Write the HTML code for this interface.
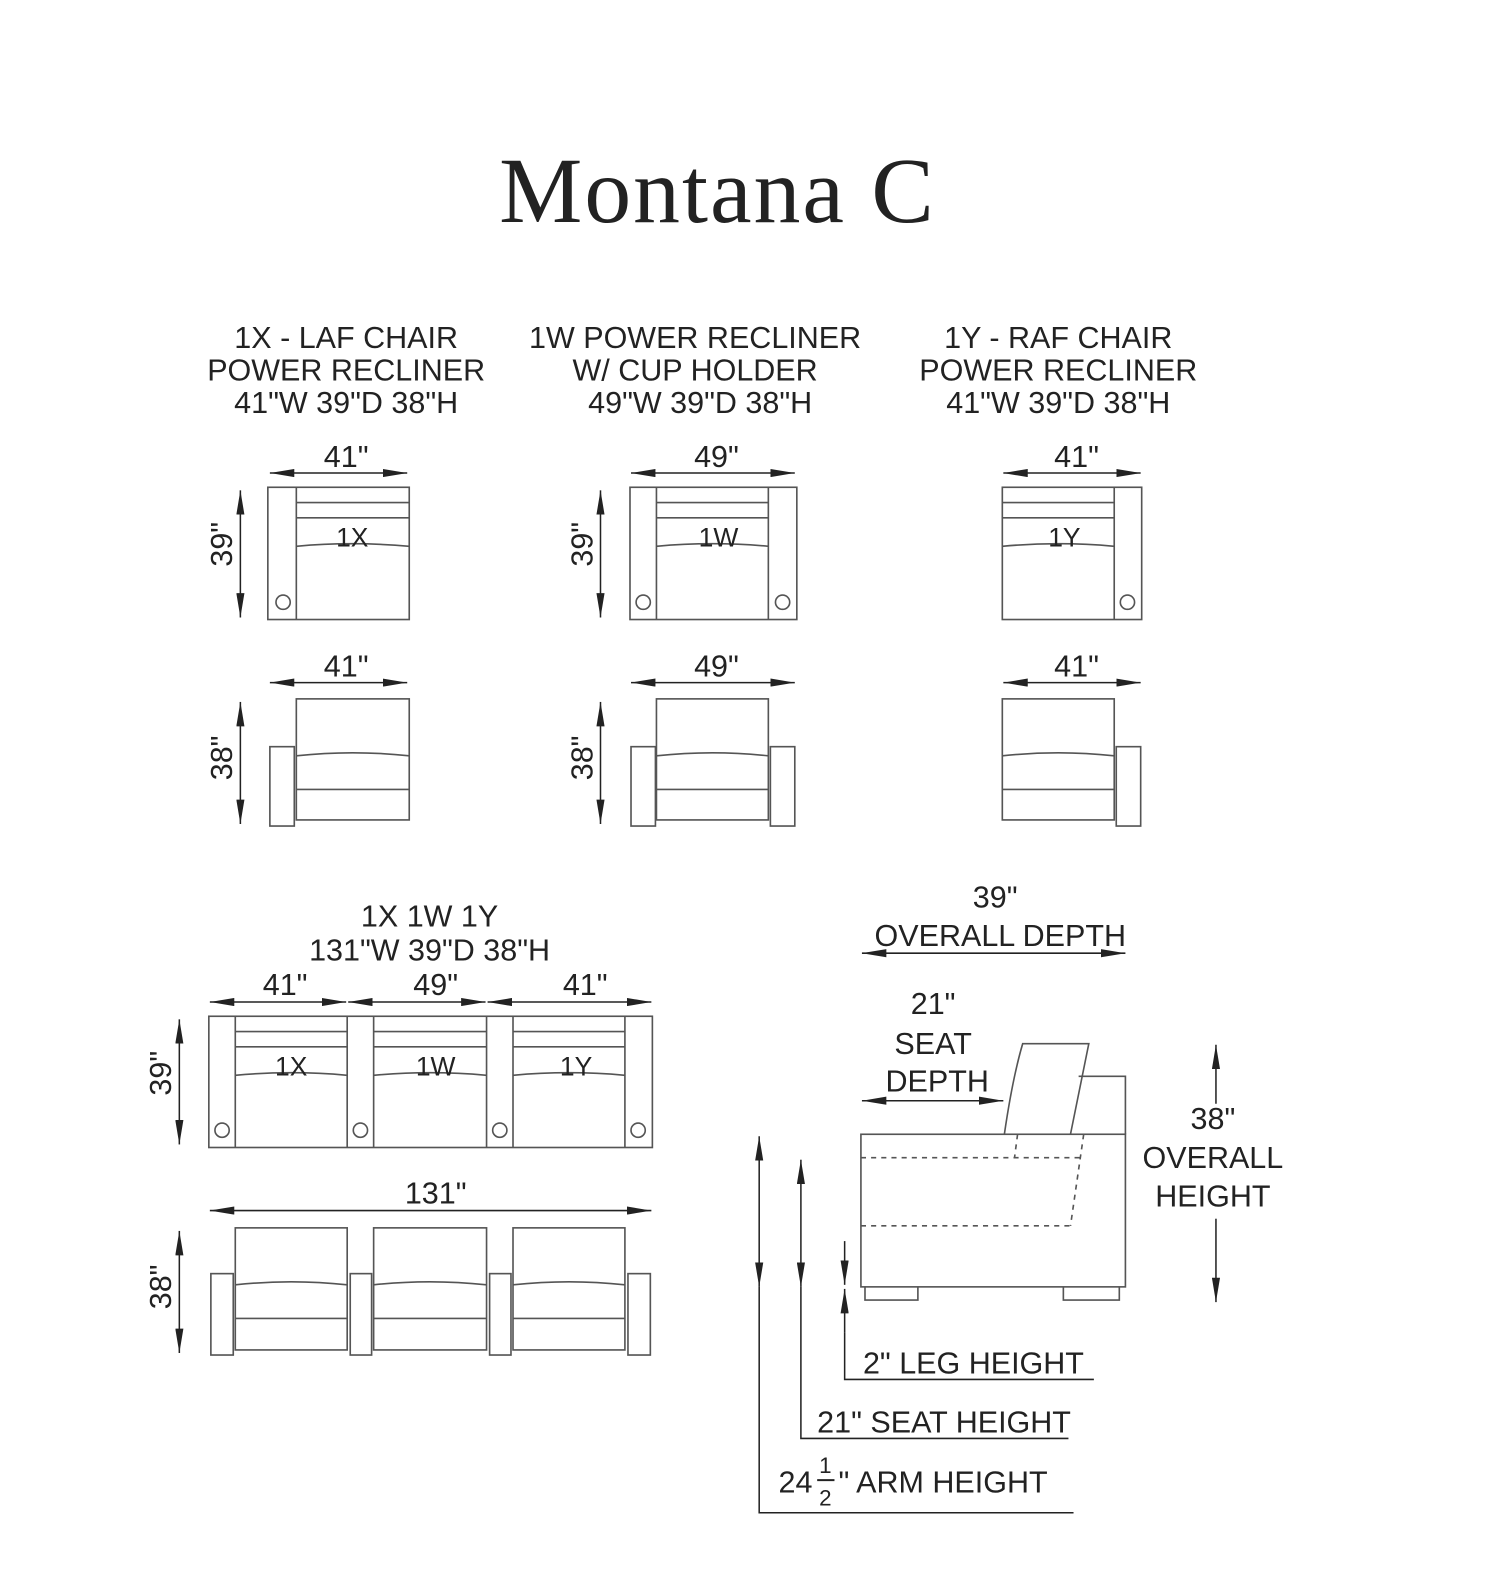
<!DOCTYPE html>
<html><head><meta charset="utf-8"><style>
html,body{margin:0;padding:0;background:#fff;}
svg{display:block;}
text{font-family:"Liberation Sans",sans-serif;fill:#222;}
</style></head><body>
<svg width="1496" height="1589" viewBox="0 0 1470 1562" xmlns="http://www.w3.org/2000/svg">
<defs>
<marker id="b" viewBox="0 0 24 8" refX="24" refY="4" markerWidth="24" markerHeight="8" markerUnits="userSpaceOnUse" orient="auto-start-reverse"><path d="M0,0L24,4L0,8z" fill="#222"/></marker>
</defs>
<g stroke="#555" stroke-width="1.6" fill="none">
<rect x="263" y="479" width="139" height="130"/><line x1="291" y1="479" x2="291" y2="609"/>
<path d="M291 494H402M291 509H402M291 537Q346 532 402 537"/><circle cx="278" cy="592" r="7"/>
<rect x="291" y="687" width="111" height="119"/><path d="M291 743Q346 737 402 743M291 776H402"/><rect x="265" y="734" width="24" height="78"/>
<rect x="619" y="479" width="164" height="130"/><path d="M645 479V609M755 479V609M645 494H755M645 509H755M645 537Q700 532 755 537"/>
<circle cx="632" cy="592" r="7"/><circle cx="769" cy="592" r="7"/>
<rect x="645" y="687" width="110" height="119"/><path d="M645 743Q700 737 755 743M645 776H755"/>
<rect x="620" y="734" width="24" height="78"/><rect x="757" y="734" width="24" height="78"/>
<rect x="985" y="479" width="137" height="130"/><path d="M1095 479V609M985 494H1095M985 509H1095M985 537Q1040 532 1095 537"/><circle cx="1108" cy="592" r="7"/>
<rect x="985" y="687" width="110" height="119"/><path d="M985 743Q1040 737 1095 743M985 776H1095"/><rect x="1097" y="734" width="24" height="78"/>
<rect x="205" y="999" width="436" height="129"/>
<path d="M231 999V1128M341 999V1128M367 999V1128M478 999V1128M504 999V1128M614 999V1128"/>
<path d="M231 1014H341M231 1029H341M231 1057Q286 1052 341 1057M367 1014H478M367 1029H478M367 1057Q422 1052 478 1057M504 1014H614M504 1029H614M504 1057Q559 1052 614 1057"/>
<circle cx="218" cy="1111" r="7"/><circle cx="354" cy="1111" r="7"/><circle cx="491" cy="1111" r="7"/><circle cx="627" cy="1111" r="7"/>
<rect x="231" y="1207" width="110" height="120"/><rect x="367" y="1207" width="111" height="120"/><rect x="504" y="1207" width="110" height="120"/>
<path d="M231 1263Q286 1257 341 1263M367 1263Q422 1257 478 1263M504 1263Q559 1257 614 1263M231 1296H341M367 1296H478M504 1296H614"/>
<rect x="207" y="1252" width="22" height="80"/><rect x="344" y="1252" width="21" height="80"/><rect x="481" y="1252" width="21" height="80"/><rect x="617" y="1252" width="22" height="80"/>
<rect x="846" y="1115" width="260" height="150"/>
<path d="M987 1115Q995 1060 1005 1026H1070L1052 1115M1060 1058H1106V1115"/>
<path d="M850 1265V1278H902V1265M1045 1265V1278H1100V1265"/>
<path d="M846 1138H1066M846 1205H1052M1065 1115L1052 1205M1000 1115L997 1138" stroke-dasharray="5 5"/>
</g>
<g stroke="#222" stroke-width="1.5" fill="none">
<line x1="265" y1="465" x2="400" y2="465" marker-start="url(#b)" marker-end="url(#b)"/>
<line x1="236" y1="482" x2="236" y2="607" marker-start="url(#b)" marker-end="url(#b)"/>
<line x1="265" y1="671" x2="400" y2="671" marker-start="url(#b)" marker-end="url(#b)"/>
<line x1="236" y1="690" x2="236" y2="810" marker-start="url(#b)" marker-end="url(#b)"/>
<line x1="620" y1="465" x2="781" y2="465" marker-start="url(#b)" marker-end="url(#b)"/>
<line x1="590" y1="482" x2="590" y2="607" marker-start="url(#b)" marker-end="url(#b)"/>
<line x1="620" y1="671" x2="781" y2="671" marker-start="url(#b)" marker-end="url(#b)"/>
<line x1="590" y1="690" x2="590" y2="810" marker-start="url(#b)" marker-end="url(#b)"/>
<line x1="986" y1="465" x2="1121" y2="465" marker-start="url(#b)" marker-end="url(#b)"/>
<line x1="986" y1="671" x2="1121" y2="671" marker-start="url(#b)" marker-end="url(#b)"/>
<line x1="206" y1="985" x2="340" y2="985" marker-start="url(#b)" marker-end="url(#b)"/>
<line x1="342" y1="985" x2="477" y2="985" marker-start="url(#b)" marker-end="url(#b)"/>
<line x1="479" y1="985" x2="640" y2="985" marker-start="url(#b)" marker-end="url(#b)"/>
<line x1="176" y1="1002" x2="176" y2="1125" marker-start="url(#b)" marker-end="url(#b)"/>
<line x1="206" y1="1190" x2="640" y2="1190" marker-start="url(#b)" marker-end="url(#b)"/>
<line x1="176" y1="1210" x2="176" y2="1330" marker-start="url(#b)" marker-end="url(#b)"/>
<line x1="847" y1="937" x2="1106" y2="937" marker-start="url(#b)" marker-end="url(#b)"/>
<line x1="847" y1="1082" x2="986" y2="1082" marker-start="url(#b)" marker-end="url(#b)"/>
<line x1="1195" y1="1027" x2="1195" y2="1085" marker-start="url(#b)"/>
<line x1="1195" y1="1198" x2="1195" y2="1280" marker-end="url(#b)"/>
<line x1="746" y1="1117" x2="746" y2="1265" marker-start="url(#b)" marker-end="url(#b)"/>
<path d="M746 1265V1487H1055"/>
<line x1="787" y1="1140" x2="787" y2="1265" marker-start="url(#b)" marker-end="url(#b)"/>
<path d="M787 1265V1414H1050"/>
<line x1="830" y1="1220" x2="830" y2="1263" marker-end="url(#b)"/>
<line x1="830" y1="1310" x2="830" y2="1267" marker-end="url(#b)"/>
<path d="M830 1310V1356H1075"/>
</g>
<text x="705" y="218" font-size="92" text-anchor="middle" letter-spacing="2" style="font-family:'Liberation Serif',serif" fill="#111">Montana C</text>
<g font-size="30" text-anchor="middle">
<text x="340" y="342">1X - LAF CHAIR</text><text x="340" y="374">POWER RECLINER</text><text x="340" y="406">41"W 39"D 38"H</text>
<text x="683" y="342">1W POWER RECLINER</text><text x="683" y="374">W/ CUP HOLDER</text><text x="688" y="406">49"W 39"D 38"H</text>
<text x="1040" y="342">1Y - RAF CHAIR</text><text x="1040" y="374">POWER RECLINER</text><text x="1040" y="406">41"W 39"D 38"H</text>
<text x="422" y="911">1X 1W 1Y</text><text x="422" y="944">131"W 39"D 38"H</text>
<text x="340" y="459">41"</text><text x="340" y="665">41"</text><text x="704" y="459">49"</text><text x="704" y="665">49"</text>
<text x="1058" y="459">41"</text><text x="1058" y="665">41"</text>
<text x="280" y="978">41"</text><text x="428" y="978">49"</text><text x="575" y="978">41"</text><text x="428" y="1183">131"</text>
<text x="978" y="892">39"</text><text x="983" y="930">OVERALL DEPTH</text>
<text x="917" y="997">21"</text><text x="917" y="1036">SEAT</text><text x="921" y="1073">DEPTH</text>
<text x="1192" y="1110">38"</text><text x="1192" y="1148">OVERALL</text><text x="1192" y="1186">HEIGHT</text>
<text transform="translate(228,535) rotate(-90)">39"</text><text transform="translate(228,745) rotate(-90)">38"</text>
<text transform="translate(582,535) rotate(-90)">39"</text><text transform="translate(582,745) rotate(-90)">38"</text>
<text transform="translate(168,1055) rotate(-90)">39"</text><text transform="translate(168,1265) rotate(-90)">38"</text>
</g>
<g font-size="26" text-anchor="middle">
<text x="346" y="537">1X</text><text x="706" y="537">1W</text><text x="1046" y="537">1Y</text>
<text x="286" y="1057">1X</text><text x="428" y="1057">1W</text><text x="566" y="1057">1Y</text>
</g>
<g font-size="30">
<text x="848" y="1350">2" LEG HEIGHT</text>
<text x="803" y="1408">21" SEAT HEIGHT</text>
<text x="765" y="1467">24</text><text x="811" y="1448" font-size="22" text-anchor="middle">1</text>
<line x1="803" y1="1455" x2="820" y2="1455" stroke="#222" stroke-width="2"/>
<text x="811" y="1480" font-size="22" text-anchor="middle">2</text>
<text x="824" y="1467">" ARM HEIGHT</text>
</g>
</svg>
</body></html>
